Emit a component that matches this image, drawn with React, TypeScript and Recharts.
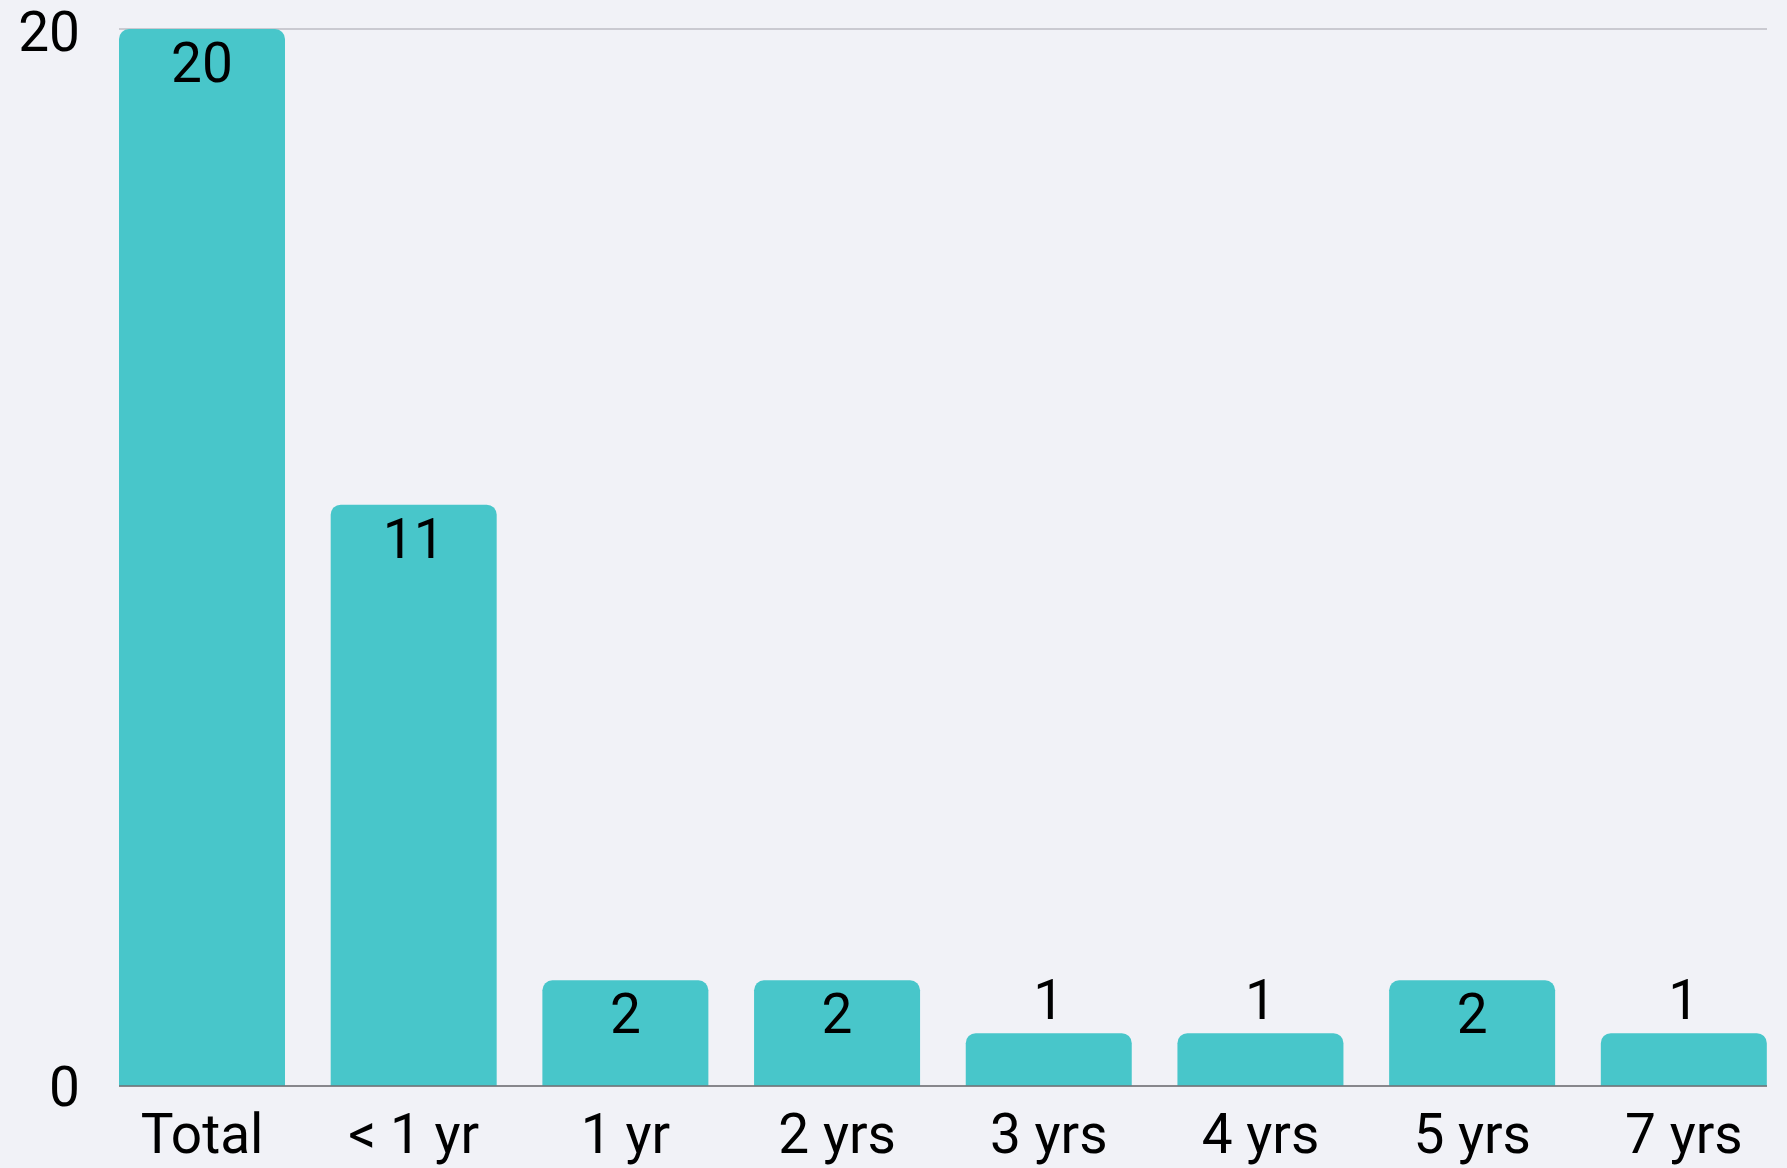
import React from 'react';
import { BarChart, Bar, XAxis, YAxis, CartesianGrid, LabelList } from 'recharts';

const categories = ['Total', '< 1 yr', '1 yr', '2 yrs', '3 yrs', '4 yrs', '5 yrs', '7 yrs'];
const counts = [20, 11, 2, 2, 1, 1, 2, 1];
const yTicks = [0, 20];

const data = categories.map((name, i) => ({ name, count: counts[i] }));

const FONT = 'Roboto, "Noto Sans", sans-serif';
const BG = '#f1f2f7';
const BAR = '#48c6ca';

// short bars get their number above, taller bars inside the top
const ValueLabel = (props: any) => {
  const { x, y, width, height, value } = props;
  const cx = Number(x) + Number(width) / 2;
  const inside = Number(height) > 80;
  const ty = inside ? Number(y) + 14 + 39 : Number(y) - 14;
  return (
    <text x={cx} y={ty} textAnchor="middle" fill="#000" fontSize={55} fontFamily={FONT}>
      {value}
    </text>
  );
};

export default function App() {
  return (
    <div style={{ position: 'absolute', left: 0, top: 0, width: 1787, height: 1168, background: BG }}>
      <BarChart
        width={1787}
        height={1168}
        data={data}
        margin={{ top: 29, right: 20, bottom: 0, left: 0 }}
        barCategoryGap={22.75}
      >
        <CartesianGrid vertical={false} stroke="#bdbdc4" strokeWidth={1.5} />
        <XAxis
          dataKey="name"
          height={82}
          padding={{ left: -22.75, right: -22.75 }}
          axisLine={{ stroke: '#707075', strokeWidth: 1.5 }}
          tickLine={false}
          tickSize={0}
          tickMargin={28}
          interval={0}
          tick={{ fill: '#000', fontSize: 55, fontFamily: FONT }}
        />
        <YAxis
          width={119}
          domain={[0, 20]}
          ticks={yTicks}
          axisLine={false}
          tickLine={false}
          tickSize={0}
          tickMargin={39}
          tick={{ fill: '#000', fontSize: 55, fontFamily: FONT }}
        />
        <Bar dataKey="count" fill={BAR} radius={[10, 10, 0, 0]} isAnimationActive={false}>
          <LabelList dataKey="count" content={ValueLabel} />
        </Bar>
      </BarChart>
    </div>
  );
}
